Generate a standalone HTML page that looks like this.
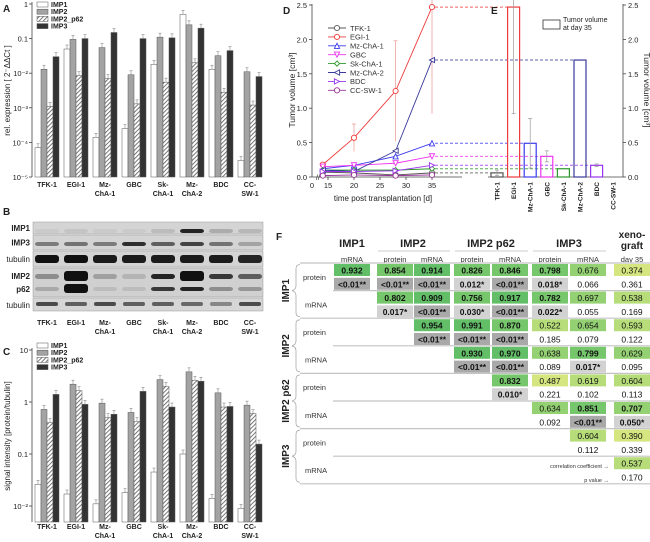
<!DOCTYPE html>
<html><head><meta charset="utf-8">
<style>
html,body{margin:0;padding:0;background:#fff;}
svg{display:block;font-family:"Liberation Sans",Arial,sans-serif;}
</style></head>
<body>
<svg id="fig" width="650" height="542" viewBox="0 0 650 542" xmlns="http://www.w3.org/2000/svg">
<defs>
<pattern id="hatch" patternUnits="userSpaceOnUse" width="3" height="3" patternTransform="rotate(45)">
<rect width="3" height="3" fill="#fff"/><line x1="0" y1="0" x2="0" y2="3" stroke="#555" stroke-width="1.6"/>
</pattern>
</defs>
</svg>
<script>
// ---------- DATA ----------
const cellLines = ["TFK-1","EGI-1","Mz-ChA-1","GBC","Sk-ChA-1","Mz-ChA-2","BDC","CC-SW-1"];
const catLine1 = ["TFK-1","EGI-1","Mz-","GBC","Sk-","Mz-","BDC","CC-"];
const catLine2 = ["","","ChA-1","","ChA-1","ChA-2","","SW-1"];
const seriesNames = ["IMP1","IMP2","IMP2_p62","IMP3"];
// Panel A: rel. expression
const aIMP1 = [7e-5,0.05,1.4e-4,2.5e-4,0.018,0.5,0.013,3e-5];
const aIMP2 = [0.013,0.095,0.055,0.009,0.11,0.25,0.032,0.011];
const aP62  = [0.0011,0.0085,0.007,0.0013,0.0055,0.02,0.0028,0.0012];
const aIMP3 = [0.03,0.1,0.15,0.1,0.105,0.2,0.045,0.008];
const aTicks = ["1","0.1","10\u207B\u00B2","10\u207B\u00B3","10\u207B\u2074","10\u207B\u2075"];
// Panel C: signal intensity
const cIMP1 = [0.026,0.017,0.011,0.018,0.045,0.1,0.014,0.009];
const cIMP2 = [0.72,2.2,0.95,0.63,2.7,3.8,1.5,0.87];
const cP62  = [0.4,1.65,0.5,0.42,2.0,2.6,0.8,0.6];
const cIMP3 = [1.4,0.9,0.58,1.6,0.8,2.5,0.82,0.155];
const cTicks = ["10","1","0.1","10\u207B\u00B2"];
// Panel B: band intensities (0..1)
const bIMP1 = [0.05,0.08,0.05,0.05,0.12,0.9,0.2,0.15];
const bIMP3 = [0.45,0.5,0.45,0.85,0.6,0.75,0.5,0.25];
const bTub1 = [1,1,0.95,0.95,0.95,0.95,0.95,0.9];
const bIMP2 = [0.35,1,0.25,0.15,0.9,1,0.8,0.6];
const bP62  = [0.2,1,0.1,0.1,0.8,0.9,0.35,0.3];
const bTub2 = [0.7,0.6,0.7,0.6,0.6,0.55,0.4,0.7];
// Panel D: tumor volume
const days = [14,20,28,35];
const dColors = ["#555","#ee3b3b","#3b3bee","#ee33ee","#2a9a2a","#3a3a9a","#9a33ee","#993399"];
const dMarkers = ["o","o","^","v","d","<",">","o"];
const dTFK = [0.07,0.06,0.03,0.06];
const dEGI = [0.18,0.57,1.25,2.47];
const dMz1 = [0.12,0.17,0.3,0.49];
const dGBC = [0.15,0.17,0.2,0.3];
const dSk  = [0.1,0.1,0.1,0.12];
const dMz2 = [0.1,0.08,0.38,1.7];
const dBDC = [0.08,0.08,0.09,0.17];
const dCC  = [0.02,0.03,0.02,0.03];
const dEGIerr = [0.02,0.2,0.73,1.55];
const dTicksX = [15,20,25,30,35];
const dTicksY = [0,0.5,1.0,1.5,2.0,2.5];
// Panel E
const eVals = [0.06,2.47,0.49,0.3,0.12,1.7,0.17,0.0];
const eErr  = [0.04,1.55,0.36,0.08,0.0,0.0,0.02,0.0];
// Panel F
const fCols = ["mRNA","protein","mRNA","protein","mRNA","protein","mRNA","day 35"];
const fCoef = [
 [0.932,0.854,0.914,0.826,0.846,0.798,0.676,0.374],
 [null,0.802,0.909,0.756,0.917,0.782,0.697,0.538],
 [null,null,0.954,0.991,0.870,0.522,0.654,0.593],
 [null,null,null,0.930,0.970,0.638,0.799,0.629],
 [null,null,null,null,0.832,0.487,0.619,0.604],
 [null,null,null,null,null,0.634,0.851,0.707],
 [null,null,null,null,null,null,0.604,0.390],
 [null,null,null,null,null,null,null,0.537]];
const fP = [
 ["<0.01**","<0.01**","<0.01**","0.012*","<0.01**","0.018*","0.066","0.361"],
 [null,"0.017*","<0.01**","0.030*","<0.01**","0.022*","0.055","0.169"],
 [null,null,"<0.01**","<0.01**","<0.01**","0.185","0.079","0.122"],
 [null,null,null,"<0.01**","<0.01**","0.089","0.017*","0.095"],
 [null,null,null,null,"0.010*","0.221","0.102","0.113"],
 [null,null,null,null,null,"0.092","<0.01**","0.050*"],
 [null,null,null,null,null,null,"0.112","0.339"],
 [null,null,null,null,null,null,null,"0.170"]];

// ---------- HELPERS ----------
const svg = document.getElementById('fig');
const NS = "http://www.w3.org/2000/svg";
function el(tag, attrs, parent){
  const e = document.createElementNS(NS, tag);
  for (const k in attrs) e.setAttribute(k, attrs[k]);
  (parent||svg).appendChild(e);
  return e;
}
function txt(x,y,s,size,opts,parent){
  opts = opts||{};
  const t = el('text',{x:x,y:y,'font-size':size,'text-anchor':opts.anchor||'start',fill:opts.fill||'#222','font-weight':opts.bold?'bold':'normal'},parent);
  if (opts.rot) t.setAttribute('transform','rotate('+opts.rot+' '+x+' '+y+')');
  t.textContent = s;
  return t;
}
function grp(name){
  const g = el('g',{});
  
  
  return g;
}
const fills = ["#fff","#a3a3a3","url(#hatch)","#333"];

// ---------- LOG BAR PANEL ----------
function logPanel(name, series, yTop, pxDec, topExp, yBottom, tickLabels, letter, letterY, ylabel, legendY, labY){
  const g = grp(name);
  const yOf = v => yTop + (topExp - Math.log10(v))*pxDec;
  el('line',{x1:32,y1:yTop-2,x2:32,y2:yBottom,stroke:'#444','stroke-width':0.8},g);
  tickLabels.forEach((lab,i)=>{
    const y = yTop + i*pxDec;
    el('line',{x1:29,y1:y,x2:32,y2:y,stroke:'#444','stroke-width':0.8},g);
    txt(28,y+3,lab,7.5,{anchor:'end'},g);
  });
  txt(3,letterY,letter,10,{bold:true},g);
  txt(10,(yTop+yBottom)/2,ylabel,8,{anchor:'middle',rot:-90},g);
  cellLines.forEach((c,i)=>{
    const cx = 47 + i*29;
    series.forEach((arr,s)=>{
      const x = cx - 12 + s*6;
      const y = yOf(arr[i]);
      const b = el('rect',{x:x,y:y,width:6,height:Math.max(0,yBottom-y),fill:fills[s],stroke:'#555','stroke-width':0.5},g);
      
      
      el('line',{x1:x+3,y1:y,x2:x+3,y2:y-4,stroke:'#888','stroke-width':0.6},g);
      el('line',{x1:x+1.5,y1:y-4,x2:x+4.5,y2:y-4,stroke:'#888','stroke-width':0.6},g);
    });
    txt(cx,labY,catLine1[i],7,{anchor:'middle',bold:true},g);
    if (catLine2[i]) txt(cx,labY+9,catLine2[i],7,{anchor:'middle',bold:true},g);
  });
  seriesNames.forEach((n,s)=>{
    const y = legendY + s*7.2;
    el('rect',{x:37,y:y,width:11,height:5,fill:fills[s],stroke:'#555','stroke-width':0.5},g);
    txt(51,y+5,n,7,{bold:true},g);
  });
}
logPanel('panel-a-chart',[aIMP1,aIMP2,aP62,aIMP3],4,34.6,0,177,aTicks,'A',12,'rel. expression [ 2\u207B\u0394\u0394Ct ]',2,187);
logPanel('panel-c-chart',[cIMP1,cIMP2,cP62,cIMP3],350,52,1,522,cTicks,'C',355,'signal intensity [protein/tubulin]',343,529);

// ---------- PANEL B (blots) ----------
(function(){
  const g = grp('panel-b-western-blot');
  txt(3,215,'B',10,{bold:true},g);
  const rows = [
    {lab:'IMP1',y:222,h:12,bands:bIMP1,by:[0.75]},
    {lab:'IMP3',y:235,h:15,bands:bIMP3,by:[0.6]},
    {lab:'tubulin',y:251,h:16,bands:bTub1,by:[0.5]},
  ];
  rows.forEach(r=>{
    el('rect',{x:33,y:r.y,width:230,height:r.h,fill:'#d4d4d4',stroke:'#999','stroke-width':0.5},g);
    txt(30,r.y+r.h/2+3,r.lab,8,{anchor:'end',bold:r.lab!=='tubulin'},g);
    r.bands.forEach((v,i)=>{
      const cx = 47+i*29;
      const bh = r.lab==='tubulin'?8:4;
      el('rect',{x:cx-12,y:r.y+r.h*r.by[0]-bh/2,width:24,height:bh,rx:3,fill:'#111','fill-opacity':v},g);
    });
  });
  el('rect',{x:33,y:268,width:230,height:29,fill:'#d0d0d0',stroke:'#999','stroke-width':0.5},g);
  txt(30,279,'IMP2',8,{anchor:'end',bold:true},g);
  txt(30,292,'p62',8,{anchor:'end',bold:true},g);
  bIMP2.forEach((v,i)=>{
    const cx=47+i*29;
    el('rect',{x:cx-12,y:274+(v>0.9?-3:0),width:24,height:v>0.9?10:5,rx:3,fill:'#111','fill-opacity':v},g);
  });
  bP62.forEach((v,i)=>{
    const cx=47+i*29;
    el('rect',{x:cx-12,y:287+(v>0.9?-3:0),width:24,height:v>0.9?9:4,rx:3,fill:'#111','fill-opacity':v},g);
  });
  el('rect',{x:33,y:298,width:230,height:13,fill:'#d6d6d6',stroke:'#999','stroke-width':0.5},g);
  txt(30,308,'tubulin',8,{anchor:'end'},g);
  bTub2.forEach((v,i)=>{
    const cx=47+i*29;
    el('rect',{x:cx-11,y:302,width:22,height:4,rx:2,fill:'#111','fill-opacity':v},g);
  });
  cellLines.forEach((c,i)=>{
    const cx=47+i*29;
    txt(cx,325,catLine1[i],7,{anchor:'middle',bold:true},g);
    if (catLine2[i]) txt(cx,334,catLine2[i],7,{anchor:'middle',bold:true},g);
  });
})();

// ---------- PANEL D ----------
const xD = d => 354 + (d-20)*5.2;
const yV = v => 177 - v*68.8;
(function(){
  const g = grp('panel-d-line-chart');
  txt(283,14,'D',10,{bold:true},g);
  el('line',{x1:312,y1:4,x2:312,y2:177,stroke:'#444','stroke-width':0.8},g);
  el('line',{x1:312,y1:177,x2:462,y2:177,stroke:'#444','stroke-width':0.8},g);
  dTicksY.forEach(v=>{
    el('line',{x1:309,y1:yV(v),x2:312,y2:yV(v),stroke:'#444','stroke-width':0.8},g);
    txt(307,yV(v)+3,v.toFixed(1),7.5,{anchor:'end'},g);
  });
  txt(312,188,'0',7.5,{anchor:'middle'},g);
  txt(316,180,'//',7,{},g);
  dTicksX.forEach(d=>{
    el('line',{x1:xD(d),y1:177,x2:xD(d),y2:180,stroke:'#444','stroke-width':0.8},g);
    txt(xD(d),188,String(d),7.5,{anchor:'middle'},g);
  });
  txt(383,201,'time post transplantation [d]',8,{anchor:'middle'},g);
  txt(295,90,'Tumor volume [cm\u00B3]',8.5,{anchor:'middle',rot:-90},g);
  const all = [dTFK,dEGI,dMz1,dGBC,dSk,dMz2,dBDC,dCC];
  days.forEach((d,j)=>{
    const x=xD(d);
    el('line',{x1:x,y1:yV(dEGI[j]+dEGIerr[j]),x2:x,y2:yV(Math.max(0,dEGI[j]-dEGIerr[j])),stroke:'#f2a0a0','stroke-width':0.8},g);
    el('line',{x1:x-2,y1:yV(dEGI[j]+dEGIerr[j]),x2:x+2,y2:yV(dEGI[j]+dEGIerr[j]),stroke:'#f2a0a0','stroke-width':0.8},g);
  });
  all.forEach((arr,s)=>{
    const pts = days.map((d,j)=>xD(d)+','+yV(arr[j])).join(' ');
    const pl = el('polyline',{points:pts,fill:'none',stroke:dColors[s],'stroke-width':0.9},g);
    
    
    days.forEach((d,j)=>marker(g,xD(d),yV(arr[j]),dMarkers[s],dColors[s]));
    const ex = 491 + s*16.6;
    if (arr[3] > 0.04) el('line',{x1:xD(35)+3,y1:yV(arr[3]),x2:ex,y2:yV(arr[3]),stroke:dColors[s],'stroke-width':1,'stroke-dasharray':'3,2','stroke-opacity':0.8},g);
  });
  cellLines.forEach((c,s)=>{
    const y = 28 + s*8.9;
    el('line',{x1:328,y1:y,x2:346,y2:y,stroke:dColors[s],'stroke-width':0.9},g);
    marker(g,337,y,dMarkers[s],dColors[s]);
    txt(350,y+2.8,c,7.5,{fill:'#333'},g);
  });
})();
function marker(g,x,y,m,c){
  const r=2.6;
  let e;
  if (m==='o') e=el('circle',{cx:x,cy:y,r:r},g);
  else {
    let p;
    if (m==='^') p=[[x,y-r],[x+r,y+r],[x-r,y+r]];
    if (m==='v') p=[[x,y+r],[x+r,y-r],[x-r,y-r]];
    if (m==='<') p=[[x-r,y],[x+r,y-r],[x+r,y+r]];
    if (m==='>') p=[[x+r,y],[x-r,y-r],[x-r,y+r]];
    if (m==='d') p=[[x,y-r],[x+r,y],[x,y+r],[x-r,y]];
    e=el('polygon',{points:p.map(q=>q.join(',')).join(' ')},g);
  }
  e.setAttribute('fill','#fff');e.setAttribute('stroke',c);e.setAttribute('stroke-width','0.9');
}

// ---------- PANEL E ----------
(function(){
  const g = grp('panel-e-bar-chart');
  txt(491,14,'E',10,{bold:true},g);
  el('line',{x1:623,y1:4,x2:623,y2:177,stroke:'#444','stroke-width':0.8},g);
  el('line',{x1:488,y1:177,x2:623,y2:177,stroke:'#444','stroke-width':0.8},g);
  dTicksY.forEach(v=>{
    el('line',{x1:623,y1:yV(v),x2:626,y2:yV(v),stroke:'#444','stroke-width':0.8},g);
    txt(628,yV(v)+3,v.toFixed(1),7.5,{},g);
  });
  txt(644,90,'Tumor volume [cm\u00B3]',8.5,{anchor:'middle',rot:90},g);
  el('rect',{x:543,y:20,width:17,height:9,fill:'none',stroke:'#333','stroke-width':0.8},g);
  txt(563,22,'Tumor volume',7,{},g);
  txt(563,30,'at day 35',7,{},g);
  eVals.forEach((v,i)=>{
    const cx = 497 + i*16.6;
    const y = yV(v);
    const b = el('rect',{x:cx-6,y:y,width:12,height:177-y,fill:'none',stroke:dColors[i],'stroke-width':1.2},g);
    
    
    if (eErr[i]>0){
      el('line',{x1:cx,y1:yV(v+eErr[i]),x2:cx,y2:yV(Math.max(0,v-eErr[i])),stroke:'#999','stroke-width':0.7},g);
      el('line',{x1:cx-2,y1:yV(v+eErr[i]),x2:cx+2,y2:yV(v+eErr[i]),stroke:'#999','stroke-width':0.7},g);
      el('line',{x1:cx-2,y1:yV(Math.max(0,v-eErr[i])),x2:cx+2,y2:yV(Math.max(0,v-eErr[i])),stroke:'#999','stroke-width':0.7},g);
    }
    txt(cx+2.5,182,cellLines[i],6.5,{anchor:'end',bold:true,rot:-90},g);
  });
})();

// ---------- PANEL F ----------
(function(){
  const g = grp('panel-f-correlation-table');
  txt(276,240,'F',10,{bold:true},g);
  const cc = [352,395,432,472,510,550,588,632];
  txt(352,247,'IMP1',11,{anchor:'middle',bold:true},g);
  txt(413,247,'IMP2',11,{anchor:'middle',bold:true},g);
  txt(491,247,'IMP2 p62',11,{anchor:'middle',bold:true},g);
  txt(569,247,'IMP3',11,{anchor:'middle',bold:true},g);
  txt(632,238,'xeno-',10,{anchor:'middle',bold:true},g);
  txt(632,249,'graft',10,{anchor:'middle',bold:true},g);
  [[378,450],[455,528],[533,606]].forEach(p=>el('line',{x1:p[0],y1:251,x2:p[1],y2:251,stroke:'#bbb','stroke-width':0.8},g));
  fCols.forEach((c,j)=>txt(cc[j],262,c,7.5,{anchor:'middle',fill:'#333'},g));
  function green(v){
    if (v>=0.9) return '#62be67';
    if (v>=0.75) return '#76c66c';
    if (v>=0.62) return '#94d173';
    if (v>=0.5) return '#b6dd7a';
    return '#d5e57f';
  }
  const groups = ['IMP1','IMP2','IMP2 p62','IMP3'];
  for (let k=0;k<=8;k++){
    const y = 263 + k*27.6;
    el('line',{x1:(k%2===0)?300:333,y1:y,x2:650,y2:y,stroke:'#c4c4c4','stroke-width':1.2},g);
  }
  groups.forEach((n,gi)=>{
    const yc = 263 + gi*55.2 + 27.6;
    txt(289,yc,n,10,{anchor:'middle',bold:true,rot:-90},g);
    el('path',{d:`M300 ${yc-26} q-4 0 -4 4 v17 q0 4 -4 5 q4 1 4 5 v17 q0 4 4 4`,fill:'none',stroke:'#aaa','stroke-width':0.8},g);
    txt(303,yc-13.8+3,'protein',7.5,{fill:'#333'},g);
    txt(305,yc+13.8+3,'mRNA',7.5,{fill:'#333'},g);
  });
  fCoef.forEach((row,r)=>{
    row.forEach((v,j)=>{
      if (v===null) return;
      const y = 270 + r*27.6;
      const p = fP[r][j];
      const sig = p.indexOf('*')>=0;
      const c = el('rect',{x:cc[j]-18,y:y-6,width:36,height:12,fill:green(v)},g);
      
      
      txt(cc[j],y+3.5,v.toFixed(3),8.5,{anchor:'middle',bold:sig,fill:'#111'},g);
      const y2 = y+13.8;
      if (sig) el('rect',{x:cc[j]-18,y:y2-6,width:36,height:12,fill:p.indexOf('**')>=0?'#a9a9a9':'#d2d2d2'},g);
      txt(cc[j],y2+3.5,p,8.5,{anchor:'middle',bold:sig,fill:'#111'},g);
    });
  });
  txt(609,468,'correlation coefficient \u2192',5.5,{anchor:'end',fill:'#333'},g);
  txt(609,482,'p value \u2192',5.5,{anchor:'end',fill:'#333'},g);
})();
</script>
</body></html>
